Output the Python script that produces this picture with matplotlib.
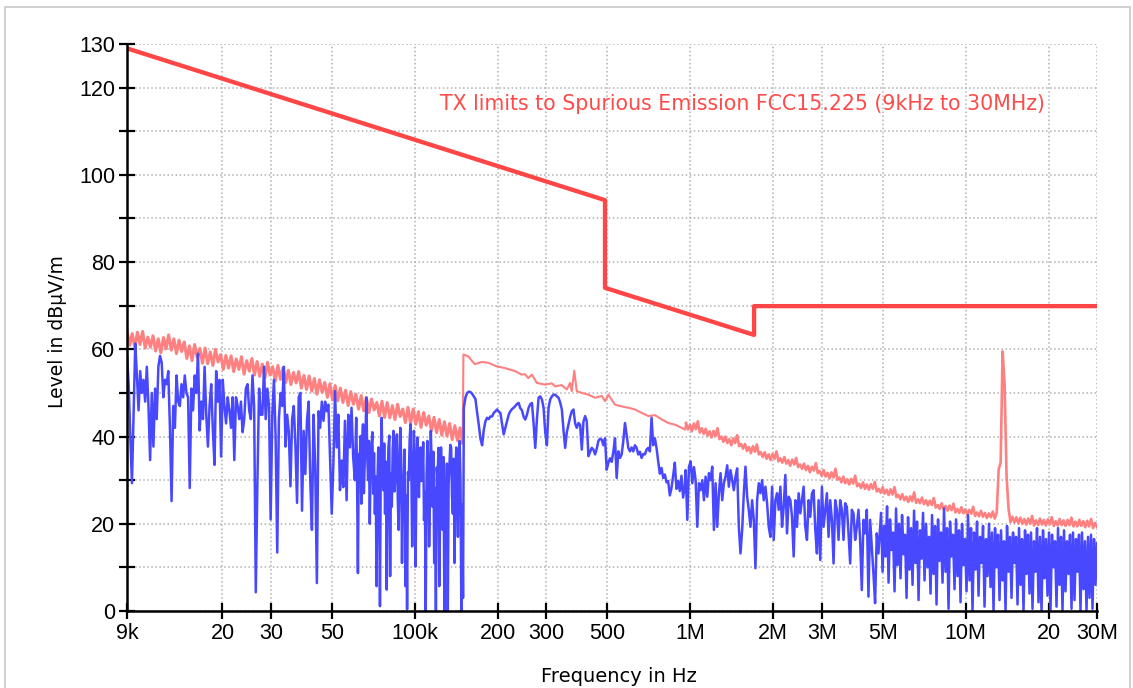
import numpy as np
import matplotlib
matplotlib.use('Agg')
import matplotlib.pyplot as plt
from matplotlib.patches import Rectangle
from matplotlib.ticker import NullLocator

# limit line (FCC 15.209 / 15.225 outside the band)
limit_freq = [9e3, 490e3, 490e3, 1.705e6, 1.705e6, 30e6]
limit_level = [129.0, 94.2, 74.1, 63.3, 69.9, 69.9]

# peak trace (salmon), 9k..150k band
peak_a = [64.3, 60.9, 63.6, 60.4, 63.9, 61.1, 64.1, 60.3, 62.8, 60.5,
          63.1, 59.6, 62.4, 59.2, 62.7, 60.1, 63.3, 59.8, 62.4, 59.0,
          62.1, 59.5, 61.7, 57.9, 60.8, 57.4, 61.1, 58.1, 60.2, 56.8,
          60.3, 56.7, 59.4, 56.3, 60.0, 57.1, 58.8, 55.4, 58.6, 55.7,
          58.5, 54.9, 57.8, 55.4, 58.3, 54.3, 57.4, 55.0, 57.9, 54.1,
          57.2, 53.8, 56.6, 53.4, 57.0, 54.1, 56.0, 52.7, 56.3, 53.1,
          55.8, 52.4, 55.2, 51.9, 54.7, 52.3, 54.9, 51.1, 54.0, 50.8,
          53.9, 50.4, 53.3, 49.7, 53.0, 50.1, 52.4, 49.0, 52.1, 48.4,
          51.7, 48.2, 51.1, 47.8, 50.6, 47.1, 50.3, 47.4, 49.7, 46.3,
          49.4, 45.9, 49.0, 45.5, 48.6, 46.1, 47.8, 44.7, 48.1, 44.4,
          47.8, 44.3, 47.1, 43.9, 47.4, 44.6, 46.3, 43.2, 46.7, 43.0,
          46.3, 42.8, 45.7, 42.1, 45.5, 42.6, 44.7, 41.3, 44.4, 40.9,
          43.9, 40.3, 43.4, 40.1, 43.0, 39.3, 42.5, 39.1, 42.0, 38.5]

# peak trace 150k..1M (kHz, dB)
peak_b_khz = [150, 156, 165, 175, 185, 198, 212, 231, 244, 251, 258, 266, 277,
              297, 314, 323, 341, 356, 366, 371, 379, 387, 404, 426, 451, 477,
              490, 504, 533, 564, 596, 630, 667, 704, 745, 788, 833, 881, 958]
peak_b = [58.8, 58.4, 56.6, 57.1, 56.9, 56.1, 55.7, 55.0, 54.2, 54.3, 53.4, 54.2, 52.3,
          51.9, 52.2, 51.5, 51.8, 50.8, 52.3, 50.4, 55.1, 50.4, 50.0, 49.6, 48.9, 49.3,
          48.1, 49.6, 47.3, 46.9, 46.6, 46.2, 45.4, 44.7, 44.9, 43.9, 43.1, 42.7, 41.6]

# peak trace 1M..30M, with the 13.56 MHz carrier
peak_c = [43.1, 41.6, 42.7, 41.2, 43.0, 41.7, 43.5, 40.9, 41.9, 40.6,
          41.8, 40.2, 41.2, 39.8, 41.3, 40.1, 41.9, 39.4, 40.0, 38.8,
          40.0, 38.5, 39.4, 38.0, 39.6, 38.5, 40.3, 37.8, 38.3, 37.2,
          38.3, 36.7, 37.6, 36.2, 37.8, 36.5, 38.2, 35.9, 36.4, 35.3,
          36.4, 34.9, 35.9, 34.6, 36.0, 34.9, 36.6, 34.3, 35.0, 34.0,
          35.3, 33.8, 34.6, 33.3, 34.7, 33.6, 35.1, 33.0, 33.6, 32.6,
          33.8, 32.3, 33.3, 31.8, 33.1, 32.2, 33.9, 31.6, 32.1, 31.0,
          32.3, 30.8, 31.7, 30.4, 31.8, 30.6, 32.6, 30.1, 30.6, 29.5,
          30.8, 29.3, 30.2, 29.0, 30.3, 29.2, 31.0, 28.6, 29.2, 28.2,
          29.5, 28.0, 29.0, 27.8, 29.1, 28.0, 29.6, 27.4, 28.0, 27.1,
          28.4, 26.9, 27.8, 26.6, 27.9, 26.7, 28.4, 26.1, 26.6, 25.6,
          26.8, 25.4, 26.2, 25.0, 26.3, 25.2, 27.2, 24.8, 25.6, 24.7,
          26.0, 24.5, 25.4, 24.2, 25.3, 24.3, 25.9, 23.7, 24.3, 23.4,
          24.7, 23.3, 24.1, 23.0, 24.2, 23.1, 24.6, 22.6, 23.4, 22.5,
          23.8, 22.4, 23.3, 22.1, 23.2, 22.3, 23.9, 21.8, 22.6, 21.7,
          23.0, 21.6, 22.5, 21.3, 22.4, 21.5, 22.8, 21.2, 22.5, 32.5,
          34.0, 59.5, 52.0, 31.0, 23.5, 20.4, 21.6, 20.3, 21.5, 20.1,
          21.4, 20.0, 21.1, 19.8, 21.2, 20.0, 21.8, 19.6, 20.8, 19.7,
          21.2, 19.8, 20.9, 19.6, 21.0, 19.9, 21.5, 19.5, 20.6, 19.6,
          21.1, 19.7, 20.8, 19.5, 20.9, 19.7, 21.4, 19.4, 20.5, 19.4,
          20.9, 19.5, 20.6, 19.2, 20.7, 19.4, 21.1, 19.0, 20.2, 19.3]

# average trace (blue), 9k..60k
avg_a1 = [58.8, 52, 40, 29.3, 45, 61.3, 54, 46, 55, 50, 53, 48, 56, 47, 34.6, 50, 37.7,
          51, 44, 56, 58.5, 57, 49, 53, 52, 55, 42, 25.2, 47, 42, 54, 48, 47, 52, 49,
          54, 50, 49, 28.2, 51, 46, 54, 50, 59, 41.4, 48, 44, 56, 45, 37.7, 47, 52,
          41.4, 33.5, 55, 48, 53, 35.4, 53, 47, 43, 49, 46, 42, 49, 34.6, 49, 47, 44,
          48, 41, 44, 51, 52, 46, 44, 54, 47, 4.3, 30, 51, 45, 45, 56, 44, 51, 47, 21,
          45, 53, 40, 13.4, 44, 50, 47, 56, 37.7, 45, 41, 28.6, 44, 47, 38, 24.8, 49, 50,
          23, 41.3, 31.4, 43.6, 48, 30, 18.6, 45, 33, 6.4, 45.8, 42, 48, 43.6, 48, 45.8,
          47.3, 35.2, 22.3, 33.7, 50.4, 37.5, 45, 27.7, 34.5, 28.4, 43.6, 25.4, 45, 37.5,
          46.6, 35.2, 30]

# average trace 60k..150k (denser, almost solid in the picture)
avg_a2 = [44.3, 30.2, 8.7, 36.0, 33.0, 40.1, 24.6, 38.5, 42.8, 27.0, 33.7, 41.2, 48.9,
          35.5, 30.0, 39.0, 20.0, 33.5, 37.5, 41.0, 26.9, 36.2, 22.3, 30.8, 5.7, 28.9,
          37.5, 32.0, 1.1, 35.0, 44.3, 31.0, 27.7, 38.4, 22.3, 34.2, 4.9, 29.5, 37.5,
          40.2, 8.0, 31.6, 23.9, 36.8, 41.3, 27.4, 30.0, 38.2, 40.5, 25.8, 18.6, 33.4,
          42.0, 35.1, 11.0, 29.0, 30.0, 37.0, 5.7, 26.5, 0.4, 31.8, 30.0, 39.2, 42.8,
          33.0, 14.8, 28.1, 41.3, 34.7, 10.2, 30.6, 39.8, 32.5, 26.1, 36.1, 37.5, 29.8,
          30.0, 38.7, 20.8, 27.3, 0.0, 31.4, 39.0, 34.4, 14.8, 25.9, 41.3, 33.3, 23.9,
          36.5, 11.0, 28.2, 0.0, 32.9, 30.0, 37.4, 5.7, 24.0, 37.5, 30.7, 18.6, 35.3,
          0.0, 27.6, 26.1, 33.8, 0.0, 29.1, 33.7, 38.1, 37.5, 26.4, 22.3, 34.9, 11.0,
          31.2, 37.5, 28.5, 17.0, 35.6, 39.0, 30.3, 0.0, 24.5, 3.0]

# average trace 150k..1M
avg_b = [46.6, 49.0, 50.0, 50.3, 50.2, 49.8, 49.2, 48.6, 45.5, 42.7, 39.5, 38.0, 41.5,
         43.5, 44.3, 44.0, 44.6, 44.6, 45.4, 45.8, 46.2, 45.7, 45.4, 43.0, 40.5, 42.0,
         43.5, 45.0, 45.8, 46.3, 46.6, 47.0, 47.5, 47.7, 46.5, 46.0, 44.5, 43.9, 45.0,
         46.6, 47.4, 47.7, 43.0, 37.4, 44.0, 48.9, 49.2, 48.5, 46.6, 41.0, 38.0, 46.6,
         48.5, 49.2, 49.6, 49.6, 49.2, 48.9, 47.8, 46.2, 41.5, 37.4, 41.0, 42.7, 44.5,
         45.8, 46.2, 43.0, 42.0, 43.1, 42.7, 37.0, 43.4, 44.7, 43.5, 35.5, 36.5, 37.4,
         37.0, 35.9, 37.2, 39.0, 39.5, 39.3, 38.0, 39.6, 32.4, 34.0, 35.0, 34.2, 36.5,
         39.6, 30.5, 36.6, 35.1, 35.9, 39.0, 43.1, 40.4, 37.4, 36.6, 37.5, 36.6, 38.0,
         37.4, 35.9, 36.5, 35.1, 36.0, 35.9, 37.0, 37.4, 36.6, 44.3, 38.0, 39.6, 37.4,
         34.3, 31.5, 32.8, 30.5, 31.3, 29.5, 29.8, 26.5, 28.2, 31.0, 34.0, 28.0, 29.8,
         27.5, 31.0, 26.0, 28.5]

# average trace 1M..5M
avg_c = [32.3, 20.9, 33.1, 34.3, 29.3, 33.0, 30.0, 19.3, 29.3, 27.7, 30.0, 25.4, 30.8,
         26.2, 31.6, 30.0, 33.1, 18.6, 29.3, 19.3, 27.0, 31.6, 25.4, 29.3, 30.8, 33.4,
         28.5, 32.3, 30.0, 27.7, 30.8, 32.7, 19.3, 13.2, 18.6, 27.0, 33.1, 26.2, 23.2,
         19.3, 25.4, 20.9, 9.8, 25.4, 29.3, 27.0, 30.0, 25.4, 28.5, 24.7, 19.3, 17.0,
         28.5, 16.3, 25.4, 27.0, 23.2, 28.5, 19.3, 23.9, 31.2, 17.8, 26.2, 25.4, 21.6,
         12.5, 25.4, 19.3, 27.0, 22.4, 25.4, 28.5, 19.3, 16.3, 25.4, 21.6, 27.0, 27.7,
         18.6, 13.2, 25.4, 11.7, 28.5, 19.3, 23.2, 27.0, 17.0, 25.4, 20.9, 10.9, 25.4,
         23.2, 16.3, 25.4, 23.2, 16.3, 24.7, 23.9, 17.8, 10.9, 23.2, 22.4, 16.3, 19.3,
         23.2, 16.3, 4.8, 20.9, 17.8, 23.2, 3.3, 20.9, 14.7, 8.6, 1.8, 17.8, 13.2, 19.3]

# average trace 5M..30M
avg_d = [22.5, 9.0, 19.5, 12.5, 24.0, 6.5, 21.0, 14.0, 18.0, 4.5,
         23.5, 10.5, 20.0, 7.5, 22.0, 13.0, 17.5, 3.0, 21.5, 9.5,
         19.0, 6.0, 23.0, 11.0, 20.5, 2.5, 18.5, 12.0, 22.5, 7.0,
         20.0, 10.0, 17.0, 4.0, 22.0, 8.5, 19.5, 1.5, 21.0, 11.5,
         18.0, 6.5, 23.5, 9.0, 19.0, 0.5, 20.5, 12.5, 17.5, 5.0,
         21.0, 8.0, 18.5, 2.0, 20.0, 10.5, 16.5, 4.5, 22.0, 7.0,
         19.0, 0.0, 18.0, 9.5, 20.5, 3.5, 17.0, 11.0, 19.5, 1.0,
         16.5, 8.0, 20.0, 5.5, 18.0, 0.0, 19.0, 10.0, 17.5, 2.5,
         18.5, 7.0, 16.0, 0.0, 19.5, 9.0, 17.0, 3.0, 18.0, 11.0,
         17.0, 1.5, 19.0, 6.0, 16.5, 0.0, 18.5, 8.5, 17.5, 4.0,
         18.0, 0.5, 16.0, 9.0, 19.0, 2.0, 17.0, 0.0, 18.5, 7.5,
         16.5, 3.5, 18.0, 0.0, 17.5, 10.0, 16.0, 1.0, 19.0, 6.0,
         17.0, 0.0, 18.5, 4.5, 16.0, 8.5, 17.5, 0.5, 18.0, 2.5,
         16.5, 9.0, 17.5, 0.0, 18.0, 5.0, 16.0, 0.0, 17.0, 3.0,
         17.5, 0.5, 16.5, 6.0, 15.5]

xtick_vals = [9e3, 20e3, 30e3, 50e3, 100e3, 200e3, 300e3, 500e3,
              1e6, 2e6, 3e6, 5e6, 10e6, 20e6, 30e6]
xtick_labels = ['9k', '20', '30', '50', '100k', '200', '300', '500',
                '1M', '2M', '3M', '5M', '10M', '20', '30M']
ytick_vals = list(range(0, 131, 10))
ytick_labels = ['0', '', '20', '', '40', '', '60', '', '80', '', '100', '', '120', '130']

# sweep frequencies of each measured segment (log spaced sweep points)
peak_a_f = np.geomspace(9e3, 149e3, len(peak_a))
peak_b_f = np.array(peak_b_khz) * 1e3
peak_c_f = np.geomspace(965e3, 30e6, len(peak_c))
avg_f = np.concatenate([np.geomspace(9e3, 60.5e3, len(avg_a1)),
                        np.geomspace(61.2e3, 149.5e3, len(avg_a2)),
                        np.geomspace(150.5e3, 955e3, len(avg_b)),
                        np.geomspace(962e3, 4.89e6, len(avg_c)),
                        np.geomspace(4.93e6, 30e6, len(avg_d))])
avg_v = np.concatenate([avg_a1, avg_a2, avg_b, avg_c, avg_d])

fig = plt.figure(figsize=(11.33, 6.88), dpi=100)
ax = fig.add_axes([127/1133, 77/688, 970/1133, 567/688])

salmon = '#ff8080'
# noisy parts of the peak trace look like a solid band, the middle part is thin
ax.plot(peak_a_f, peak_a, color=salmon, lw=2.2, zorder=3)
ax.plot(np.r_[peak_a_f[-1], peak_b_f, peak_c_f[0]], np.r_[peak_a[-1], peak_b, peak_c[0]],
        color=salmon, lw=1.5, zorder=3)
ax.plot(peak_c_f, peak_c, color=salmon, lw=1.9, zorder=3)
ax.plot(avg_f, avg_v, color='#4848ff', lw=1.8, zorder=4)
ax.plot(limit_freq, limit_level, color='#ff4646', lw=3.1, zorder=5)

ax.set_xscale('log')
ax.set_xlim(9e3, 30e6)
ax.set_ylim(0, 130)
ax.set_xticks(xtick_vals)
ax.set_xticklabels(xtick_labels)
ax.xaxis.set_minor_locator(NullLocator())
ax.set_yticks(ytick_vals)
ax.set_yticklabels(ytick_labels)

for lab in ax.get_xticklabels() + ax.get_yticklabels():
    lab.set_family('Liberation Sans')
ax.tick_params(direction='inout', length=11, width=1.6, labelsize=15.5, pad=3)

ax.grid(True, linestyle=':', color='#b0b0b0', lw=1.1)
ax.spines['top'].set_visible(False)
ax.spines['right'].set_visible(False)
ax.spines['left'].set_linewidth(1.8)
ax.spines['bottom'].set_linewidth(1.8)
ax.spines['left'].set_zorder(6)
ax.spines['bottom'].set_zorder(6)

ax.text(123e3, 114.9, 'TX limits to Spurious Emission FCC15.225 (9kHz to 30MHz)',
        color='#ff4a4a', fontsize=14.8, family='DejaVu Sans', va='baseline')

ax.set_ylabel('Level in dBµV/m', fontsize=13.5, family='DejaVu Sans')
ax.yaxis.set_label_coords(-0.062, 0.492)
ax.set_xlabel('Frequency in Hz', fontsize=14, family='DejaVu Sans', va='top')
ax.xaxis.set_label_coords(0.507, -0.098)

fig.add_artist(Rectangle((5/1133, -0.05), 1125/1133, 0.05 + 681/688,
                         transform=fig.transFigure, fill=False,
                         edgecolor='#c8c8c8', lw=1.2))

fig.savefig('out.png', dpi=100)
